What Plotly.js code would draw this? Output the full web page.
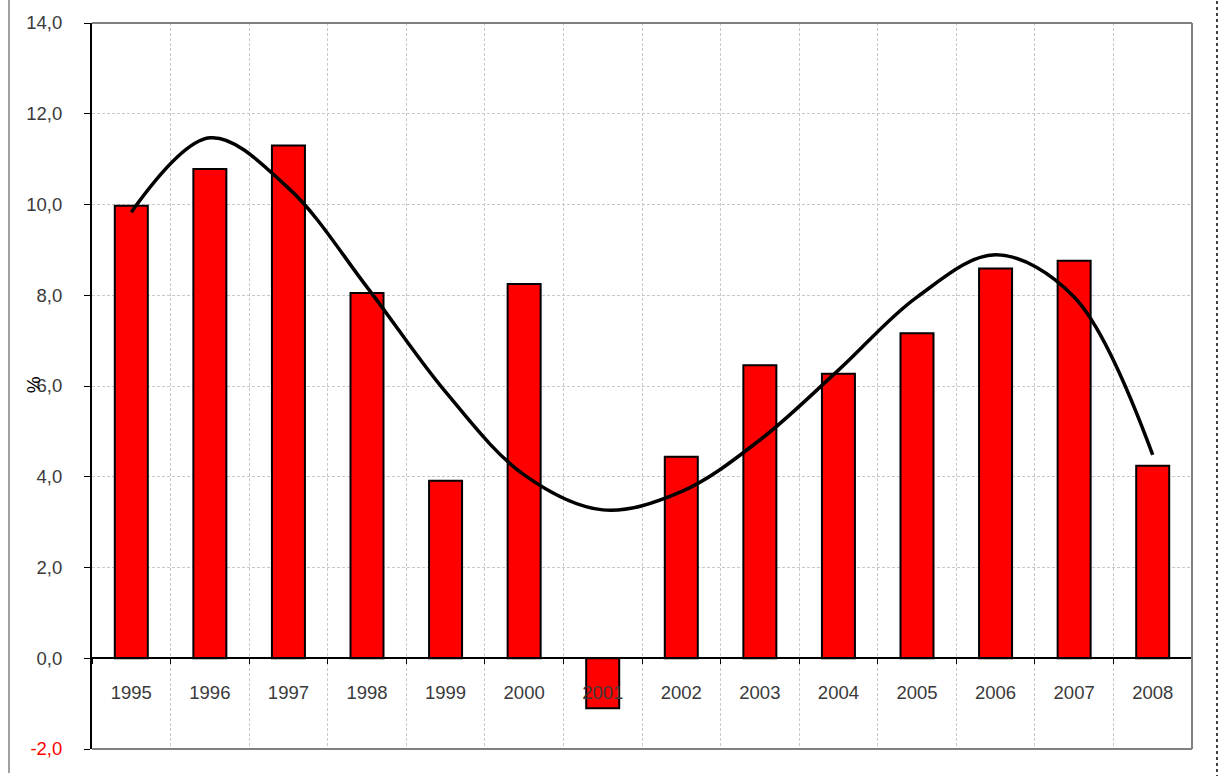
<!DOCTYPE html>
<html>
<head>
<meta charset="utf-8">
<script src="https://cdn.plot.ly/plotly-3.0.1.min.js"></script>
<style>
  html, body { margin: 0; padding: 0; background: #ffffff; }
  #chart { width: 1218px; height: 776px; }
</style>
</head>
<body>
<div id="chart"></div>
<script>
// ---- data ----
const years = ["1995","1996","1997","1998","1999","2000","2001","2002","2003","2004","2005","2006","2007","2008"];
const growth = [9.97, 10.78, 11.30, 8.05, 3.91, 8.25, -1.10, 4.44, 6.46, 6.27, 7.16, 8.59, 8.76, 4.24];
const trend = [9.83, 11.47, 10.36, 8.18, 5.87, 4.04, 3.27, 3.67, 4.81, 6.35, 7.96, 8.89, 7.96, 4.48];
const yTickVals = [-2, 0, 2, 4, 6, 8, 10, 12, 14];
const yTitle = "%";

// ---- tick text: comma decimal, negative tick in red ----
const yTickText = yTickVals.map(v => {
  const s = v.toFixed(1).replace('.', ',');
  return v < 0 ? '<span style="color:#ff0000">' + s + '</span>' : s;
});

const font = { family: '"Liberation Sans", Arial, sans-serif', size: 18.5, color: '#3a3a3a' };
const gridColor = '#c8c8c8';

const traces = [
  {
    type: 'bar',
    x: years,
    y: growth,
    width: 0.42,
    marker: { color: '#ff0000', line: { color: '#000000', width: 2 } },
    hoverinfo: 'x+y'
  },
  {
    type: 'scatter',
    mode: 'lines',
    x: years,
    y: trend,
    line: { color: '#000000', width: 3.5, shape: 'spline', smoothing: 1 },
    hoverinfo: 'skip'
  }
];

const layout = {
  width: 1218,
  height: 776,
  margin: { l: 92, r: 26, t: 23, b: 27, pad: 0 },
  paper_bgcolor: '#ffffff',
  plot_bgcolor: '#ffffff',
  showlegend: false,
  font: font,
  bargap: 0,
  xaxis: {
    type: 'category',
    anchor: 'free',
    position: 0.125,
    showline: true,
    linecolor: '#000000',
    linewidth: 2,
    ticks: 'outside',
    ticklen: 5,
    tickwidth: 1,
    tickcolor: '#000000',
    tickson: 'boundaries',
    showgrid: true,
    gridcolor: gridColor,
    griddash: '3px,2px',
    gridwidth: 1,
    zeroline: false,
    ticklabelstandoff: 18,
    tickfont: font,
    fixedrange: true
  },
  yaxis: {
    range: [-2, 14],
    tickvals: yTickVals,
    ticktext: yTickText,
    showline: true,
    linecolor: '#000000',
    linewidth: 2,
    ticks: 'outside',
    ticklen: 6,
    tickwidth: 1,
    tickcolor: '#000000',
    showgrid: true,
    gridcolor: gridColor,
    griddash: '3px,2px',
    gridwidth: 1,
    zeroline: false,
    ticklabelstandoff: 18,
    tickfont: font,
    fixedrange: true
  },
  annotations: [
    {
      text: yTitle,
      xref: 'paper', yref: 'paper',
      x: 0, y: 0.501,
      xshift: -59,
      xanchor: 'center', yanchor: 'middle',
      textangle: -90,
      showarrow: false,
      font: { family: font.family, size: 19, color: '#000000' }
    }
  ],
  shapes: [
    // plot-area border: top, right, bottom (gray)
    { type: 'line', xref: 'paper', yref: 'paper', x0: 0, x1: 1, y0: 1, y1: 1, line: { color: '#808080', width: 2 } },
    { type: 'line', xref: 'paper', yref: 'paper', x0: 1, x1: 1, y0: 0, y1: 1, line: { color: '#808080', width: 2 } },
    { type: 'line', xref: 'paper', yref: 'paper', x0: 0, x1: 1, y0: 0, y1: 0, line: { color: '#808080', width: 2 } }
  ]
};

// Outer chart frame edges, positioned relative to the plot area
const plotW = 1218 - 92 - 26, plotH = 776 - 23 - 27;
layout.shapes.push(
  { type: 'line', xref: 'paper', yref: 'paper',
    x0: (9 - 92) / plotW, x1: (9 - 92) / plotW,
    y0: (749 + 23) / plotH, y1: (749 - 773) / plotH,
    line: { color: '#a0a0a0', width: 2 } },
  { type: 'line', xref: 'paper', yref: 'paper',
    x0: (1217 - 92) / plotW, x1: (1217 - 92) / plotW,
    y0: (749 + 23) / plotH, y1: (749 - 776) / plotH,
    line: { color: '#404040', width: 2, dash: 'dot' } }
);

Plotly.newPlot('chart', traces, layout, { displayModeBar: false, staticPlot: true });
</script>
</body>
</html>
